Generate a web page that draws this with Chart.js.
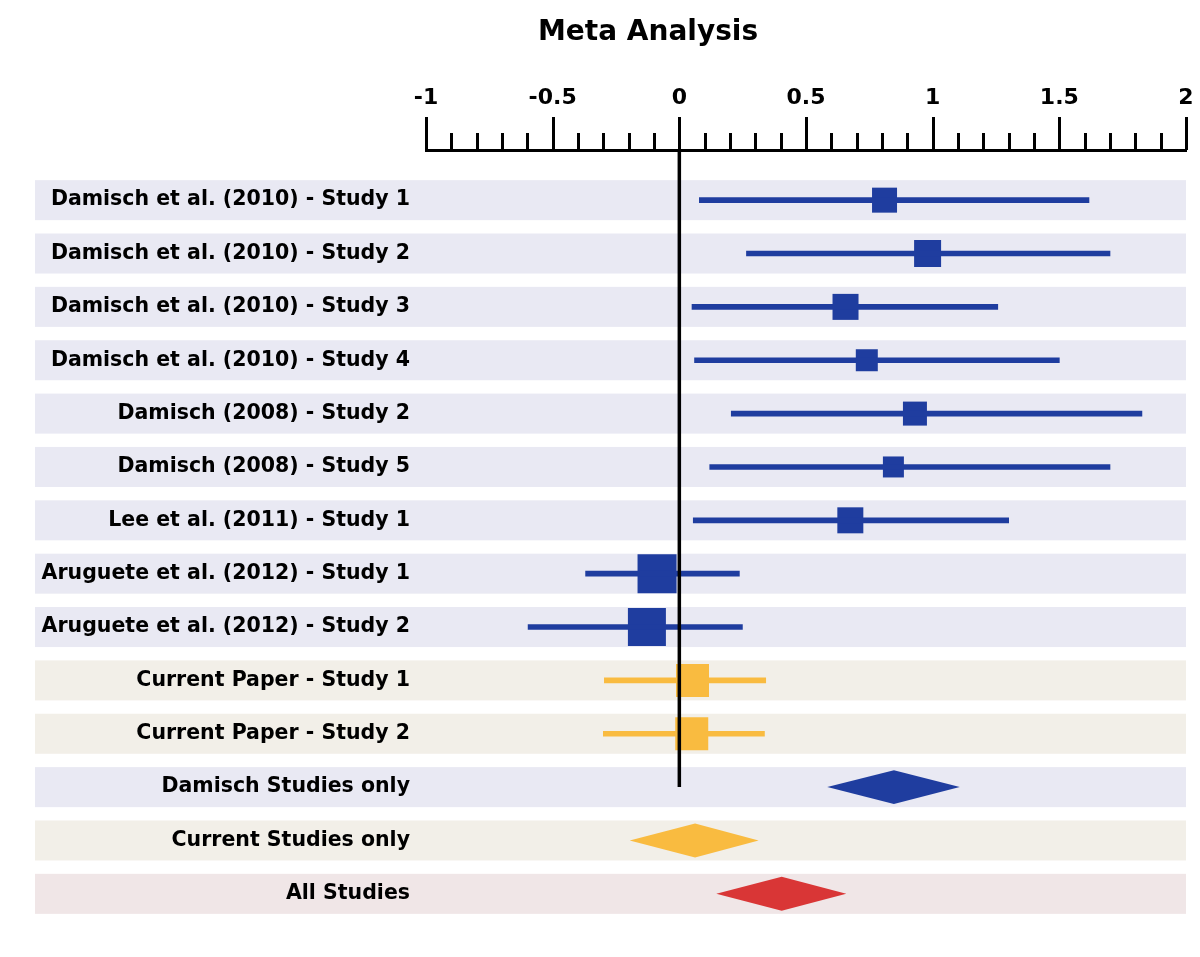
<!DOCTYPE html>
<html>
<head>
<meta charset="utf-8">
<script src="https://cdn.jsdelivr.net/npm/chart.js@4.4.1/dist/chart.umd.min.js"></script>
<style>
html,body{margin:0;padding:0;background:#fff;}
canvas{display:block;}
</style>
</head>
<body>
<canvas id="c" width="1200" height="957"></canvas>
<script>
// ---- data ----
const chartTitle = 'Meta Analysis';
const studies = [
  'Damisch et al. (2010) - Study 1',
  'Damisch et al. (2010) - Study 2',
  'Damisch et al. (2010) - Study 3',
  'Damisch et al. (2010) - Study 4',
  'Damisch (2008) - Study 2',
  'Damisch (2008) - Study 5',
  'Lee et al. (2011) - Study 1',
  'Aruguete et al. (2012) - Study 1',
  'Aruguete et al. (2012) - Study 2',
  'Current Paper - Study 1',
  'Current Paper - Study 2'
];
const studyEst  = [0.81, 0.98, 0.656, 0.74, 0.93, 0.845, 0.675, -0.088, -0.128, 0.052, 0.049];
const studyLow  = [0.079, 0.265, 0.05, 0.06, 0.205, 0.12, 0.055, -0.37, -0.597, -0.296, -0.300];
const studyHigh = [1.617, 1.70, 1.257, 1.50, 1.826, 1.70, 1.30, 0.237, 0.249, 0.341, 0.336];
const studyWeight = [25, 27, 26, 22, 24, 21, 26, 39, 38, 33, 33]; // relative study weights
const studyGroup = ['prior','prior','prior','prior','prior','prior','prior','prior','prior','current','current'];

const summaries = ['Damisch Studies only', 'Current Studies only', 'All Studies'];
const sumEst  = [0.847, 0.062, 0.404];
const sumLow  = [0.584, -0.196, 0.146];
const sumHigh = [1.107, 0.313, 0.659];
const sumGroup = ['prior', 'current', 'all'];

const xTickLabels = [-1, -0.5, 0, 0.5, 1, 1.5, 2];

// ---- styling ----
const FONT = '"DejaVu Sans", "Liberation Sans", sans-serif';
const markColor = { prior: '#1f3d9f', current: '#f9bb40', all: '#d93636' };
const bandColor = { prior: '#e9e9f3', current: '#f2efe8', all: '#f0e6e7' };
const BAND_LEFT = 35;
const TITLE_X = 648;
const TITLE_Y = 33;
const SQUARE_MAX = 39;
const MINOR_TICK = 17;
const MAJOR_TICK = 33;
const maxWeight = Math.max(...studyWeight);

const rowLabels = studies.concat(summaries);
const rowGroups = studyGroup.concat(sumGroup);

const isMajor = v => Math.abs(v * 2 - Math.round(v * 2)) < 1e-6;

const forestPlugin = {
  id: 'forest',
  beforeDraw(chart) {
    const {ctx, chartArea, scales: {y}} = chart;
    const step = Math.abs(y.getPixelForValue(1) - y.getPixelForValue(0));
    const h = step * 0.75;
    ctx.save();
    rowLabels.forEach((_, i) => {
      const cy = y.getPixelForValue(i);
      ctx.fillStyle = bandColor[rowGroups[i]];
      ctx.fillRect(BAND_LEFT, cy - h / 2, chartArea.right - BAND_LEFT, h);
    });
    ctx.fillStyle = '#000';
    ctx.font = 'bold 28px ' + FONT;
    ctx.textAlign = 'center';
    ctx.textBaseline = 'middle';
    ctx.fillText(chartTitle, TITLE_X, TITLE_Y);
    ctx.restore();
  },
  afterDatasetDraw(chart, args) {
    if (args.index !== 0) return;
    const {ctx, chartArea, scales: {x, y}} = chart;
    const x0 = x.getPixelForValue(0);
    ctx.save();
    ctx.strokeStyle = '#000';
    ctx.lineWidth = 3.5;
    ctx.beginPath();
    ctx.moveTo(x0, chartArea.top);
    ctx.lineTo(x0, y.getPixelForValue(studies.length));
    ctx.stroke();
    ctx.restore();
  },
  afterDatasetsDraw(chart) {
    const {ctx, chartArea, scales: {x, y}} = chart;
    const step = Math.abs(y.getPixelForValue(1) - y.getPixelForValue(0));
    const hh = step * 0.318;
    ctx.save();
    summaries.forEach((_, k) => {
      const cy = y.getPixelForValue(studies.length + k);
      ctx.fillStyle = markColor[sumGroup[k]];
      ctx.beginPath();
      ctx.moveTo(x.getPixelForValue(sumLow[k]), cy);
      ctx.lineTo(x.getPixelForValue(sumEst[k]), cy - hh);
      ctx.lineTo(x.getPixelForValue(sumHigh[k]), cy);
      ctx.lineTo(x.getPixelForValue(sumEst[k]), cy + hh);
      ctx.closePath();
      ctx.fill();
    });
    // axis tick marks (minor / major) at the scale's own ticks
    ctx.strokeStyle = '#000';
    ctx.lineWidth = 3;
    const top = chartArea.top;
    x.ticks.forEach(t => {
      const px = Math.round(x.getPixelForValue(t.value)) + 0.5;
      const len = isMajor(t.value) ? MAJOR_TICK : MINOR_TICK;
      ctx.beginPath();
      ctx.moveTo(px, top);
      ctx.lineTo(px, top - len);
      ctx.stroke();
    });
    ctx.restore();
  }
};

new Chart(document.getElementById('c'), {
  type: 'scatter',
  data: {
    datasets: [
      {
        type: 'bar',
        indexAxis: 'y',
        data: studies.map((_, i) => ({ y: i, x: [studyLow[i], studyHigh[i]] })),
        backgroundColor: studyGroup.map(g => markColor[g]),
        borderWidth: 0,
        barThickness: 5,
        xAxisID: 'x',
        yAxisID: 'y'
      },
      {
        type: 'scatter',
        data: studies.map((_, i) => ({ x: studyEst[i], y: i })),
        pointStyle: 'rect',
        pointRadius: studyWeight.map(w => (SQUARE_MAX * w / maxWeight) / Math.SQRT2),
        pointHoverRadius: studyWeight.map(w => (SQUARE_MAX * w / maxWeight) / Math.SQRT2),
        pointBackgroundColor: studyGroup.map(g => markColor[g]),
        pointBorderWidth: 0,
        showLine: false,
        xAxisID: 'x',
        yAxisID: 'y'
      }
    ]
  },
  options: {
    responsive: false,
    animation: false,
    events: [],
    devicePixelRatio: 1,
    layout: { autoPadding: false, padding: { left: BAND_LEFT, right: 14, top: 60, bottom: 13 } },
    plugins: {
      legend: { display: false },
      tooltip: { enabled: false },
      title: { display: false }
    },
    scales: {
      x: {
        type: 'linear',
        position: 'top',
        offset: false,
        min: -1,
        max: 2,
        afterFit: s => { s.height = 90; },
        grid: {
          display: true,
          offset: false,
          drawOnChartArea: false,
          drawTicks: true,
          tickLength: 39,
          tickWidth: 3,
          tickColor: 'rgba(0,0,0,0)',
          color: 'rgba(0,0,0,0)'
        },
        border: { display: true, color: '#000', width: 3 },
        ticks: {
          stepSize: 0.1,
          autoSkip: false,
          maxRotation: 0,
          padding: 0,
          color: '#000',
          font: { family: FONT, size: 22, weight: 'bold' },
          callback: v => {
            if (!isMajor(v)) return '';
            const k = xTickLabels.findIndex(t => Math.abs(t - v) < 1e-6);
            return k >= 0 ? String(xTickLabels[k]) : '';
          }
        }
      },
      y: {
        type: 'linear',
        reverse: true,
        offset: false,
        beginAtZero: false,
        min: -0.94,
        max: 13.94,
        afterBuildTicks: s => { s.ticks = rowLabels.map((_, i) => ({ value: i })); },
        afterFit: s => { s.width = 391; },
        grid: {
          display: true,
          offset: false,
          drawOnChartArea: false,
          drawTicks: true,
          tickLength: 16,
          tickColor: 'rgba(0,0,0,0)',
          color: 'rgba(0,0,0,0)'
        },
        border: { display: false },
        ticks: {
          autoSkip: false,
          padding: 0,
          color: '#000',
          font: { family: FONT, size: 20.5, weight: 'bold' },
          callback: v => rowLabels[Math.round(v)] || ''
        }
      }
    }
  },
  plugins: [forestPlugin]
});
</script>
</body>
</html>
